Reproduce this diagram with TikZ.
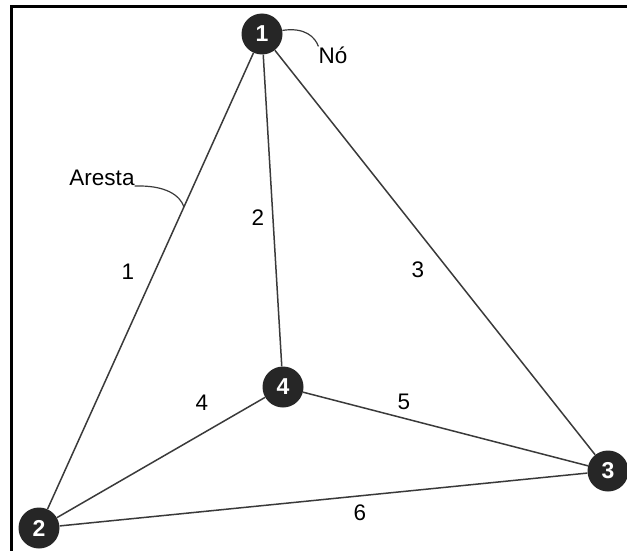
\documentclass[tikz,border=0pt]{standalone}
\usepackage{fontspec}
\setmainfont{Liberation Sans}
\usetikzlibrary{calc}
\definecolor{nodefill}{HTML}{262626}
\definecolor{edgegray}{HTML}{3A3A3A}
\begin{document}
\begin{tikzpicture}[x=1pt,y=-1pt,
  vertex/.style={circle,fill=nodefill,draw=none,minimum size=41pt,inner sep=0pt,
    text=white,font=\fontsize{23}{23}\selectfont\bfseries},
  edge/.style={draw=edgegray,line width=1.5pt},
  elabel/.style={inner sep=0pt,font=\fontsize{22.5}{22.5}\selectfont},
  callout/.style={draw=edgegray,line width=1.2pt}]
\useasboundingbox (0,0) rectangle (627,551);
% frame (top and left sides)
\draw[line width=3pt] (11,551) -- (11,7) -- (627,7);

% vertices
\node[vertex] (n1) at (262,34) {1};
\node[vertex] (n2) at (39,528) {2};
\node[vertex] (n3) at (608,471) {3};
\node[vertex] (n4) at (283,387) {4};

% edges
\draw[edge] (n1) -- (n2);
\draw[edge] (n1) -- (n4);
\draw[edge] (n1) -- (n3);
\draw[edge] (n2) -- (n4);
\draw[edge] (n4) -- (n3);
\draw[edge] (n2) -- (n3);

% edge labels
\node[elabel] (l1) at (128,272) {1};
\node[elabel] (l2) at (258,218) {2};
\node[elabel] (l3) at (418,270) {3};
\node[elabel] (l4) at (202,403) {4};
\node[elabel] (l5) at (404,402) {5};
\node[elabel] (l6) at (360,513) {6};

% callouts
\node[elabel] (no) at (333,55) {Nó};
\draw[callout] (n1.10) .. controls (305,27) and (315,37) .. (no.north west);

\node[elabel] (aresta) at (102,178) {Aresta};
\coordinate (ep) at ($(n2)!0.65!(n1)$);
\draw[callout] (aresta.south east) .. controls (165,185) and (180,195) .. (ep);
\end{tikzpicture}
\end{document}
